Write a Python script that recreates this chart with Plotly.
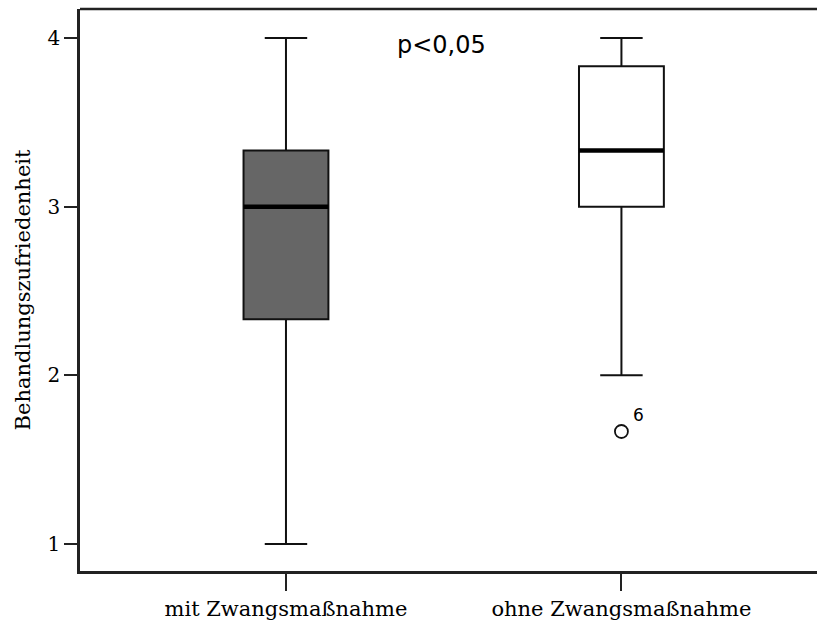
import plotly.graph_objects as go

# Data
categories = ["mit Zwangsmaßnahme", "ohne Zwangsmaßnahme"]
q1 = [2.333, 3.0]
median = [3.0, 3.333]
q3 = [3.333, 3.833]
lower_whisker = [1.0, 2.0]
upper_whisker = [4.0, 4.0]
box_fill = ["#666666", "#ffffff"]
outlier_group = [1]
outlier_values = [1.667]
outlier_labels = ["6"]
y_ticks = [1, 2, 3, 4]

box_width = 0.253
serif = "DejaVu Serif"
sans = "DejaVu Sans"

fig = go.Figure()
for i, cat in enumerate(categories):
    fig.add_trace(go.Box(
        x=[i], q1=[q1[i]], median=[median[i]], q3=[q3[i]],
        lowerfence=[lower_whisker[i]], upperfence=[upper_whisker[i]],
        fillcolor=box_fill[i], line=dict(color="#111111", width=2),
        width=box_width, whiskerwidth=0.5, boxpoints=False,
        showlegend=False, hoverinfo="skip", name=cat,
    ))
    # thick median line
    fig.add_trace(go.Scatter(
        x=[i - box_width / 2, i + box_width / 2], y=[median[i], median[i]],
        mode="lines", line=dict(color="#000000", width=4.5),
        showlegend=False, hoverinfo="skip",
    ))

fig.add_trace(go.Scatter(
    x=outlier_group, y=outlier_values, mode="markers",
    marker=dict(symbol="circle-open", size=13, color="#111111", line=dict(width=1.8)),
    showlegend=False, hoverinfo="skip",
))
for gx, gy, lab in zip(outlier_group, outlier_values, outlier_labels):
    fig.add_annotation(x=gx, y=gy, text=lab, showarrow=False, xshift=17, yshift=17,
                       font=dict(family=sans, size=17, color="#000000"))

fig.add_annotation(x=0.465, y=3.96, text="p<0,05", showarrow=False,
                   font=dict(family=sans, size=24, color="#000000"))

# top frame line
fig.add_shape(type="line", xref="paper", yref="paper", x0=0, x1=1, y0=1, y1=1,
              line=dict(color="#222222", width=2.5))

fig.update_layout(
    width=817, height=623,
    margin=dict(l=80, r=0, t=9, b=52),
    plot_bgcolor="#ffffff", paper_bgcolor="#ffffff",
    xaxis=dict(range=[-0.614, 1.583], tickvals=[0, 1], ticktext=categories,
               showgrid=False, zeroline=False, showline=True, linecolor="#222222", linewidth=2.5,
               ticks="outside", ticklen=17, tickwidth=2, tickcolor="#222222",
               tickfont=dict(family=serif, size=21, color="#000000")),
    yaxis=dict(range=[0.84, 4.172], tickvals=y_ticks, ticktext=[str(t) for t in y_ticks],
               showgrid=False, zeroline=False, showline=True, linecolor="#222222", linewidth=2.5,
               ticks="outside", ticklen=13, tickwidth=2, tickcolor="#222222",
               tickfont=dict(family=serif, size=20, color="#000000"),
               title=dict(text="Behandlungszufriedenheit", font=dict(family=serif, size=21, color="#000000"),
                          standoff=12)),
)

fig.write_html("out.html", config={"displayModeBar": False},
               post_script="document.body.style.margin='0px';")
